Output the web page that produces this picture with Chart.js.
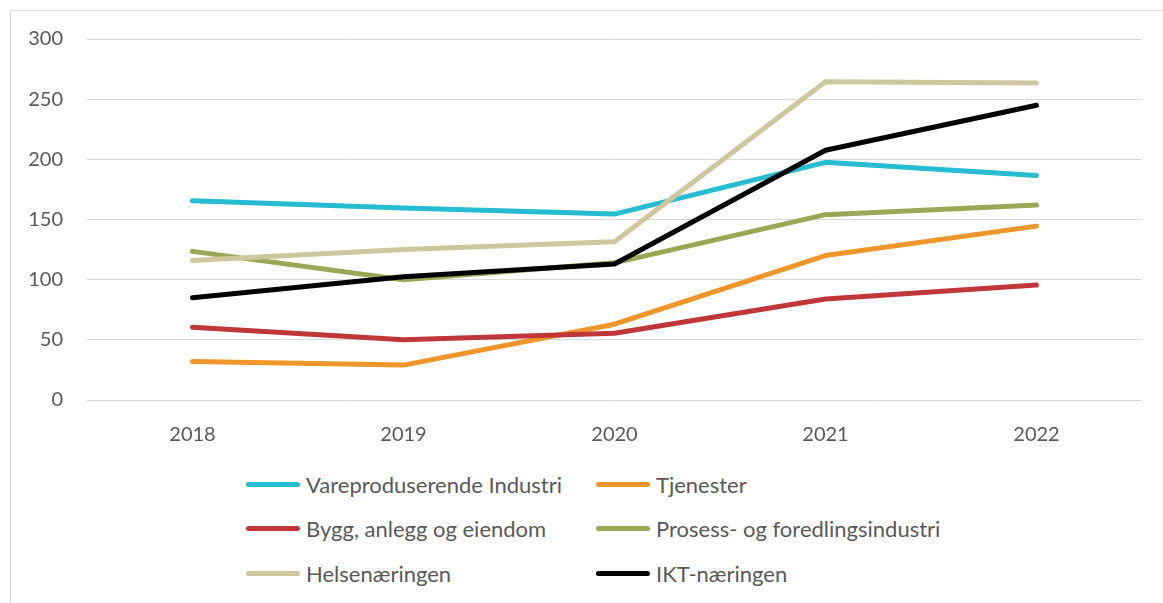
<!DOCTYPE html>
<html lang="no">
<head>
<meta charset="UTF-8">
<title>Næringer</title>
<script src="https://cdn.jsdelivr.net/npm/chart.js"></script>
<style>
    body { margin: 0; background: #fff; font-family: Lato, "Open Sans", sans-serif; }
    .ramme { position: absolute; left: 10px; top: 10px; width: 1160px; height: 600px; border: 1px solid #d9d9d9; }
    .graf { position: absolute; left: 0; top: 0; width: 1163px; height: 460px; }
    .forklaring { position: absolute; left: 246px; top: 462px; display: grid; grid-template-columns: 350px 400px; row-gap: 0; }
    .forklaring div { height: 44.5px; display: flex; align-items: center; color: #595959; font-size: 22px; }
    .forklaring span { display: inline-block; width: 54px; height: 5px; border-radius: 3px; margin-right: 6px; }
</style>
</head>
<body>
<div class="ramme"></div>
<div class="graf"><canvas id="minGraf"></canvas></div>
<div class="forklaring" id="forklaring"></div>

<script>
    // data lest av bildet
    const aar = ["2018", "2019", "2020", "2021", "2022"];
    const navn = [
        "Vareproduserende Industri",
        "Tjenester",
        "Bygg, anlegg og eiendom",
        "Prosess- og foredlingsindustri",
        "Helsenæringen",
        "IKT-næringen"
    ];
    const vareproduserende = [165.5, 159.5, 154.5, 197.5, 186.5];
    const tjenester = [32, 29, 63, 120, 144.5];
    const bygg = [60.5, 50, 55.5, 84, 95.5];
    const prosess = [123.5, 100, 114, 154, 162];
    const helse = [116, 125, 131.5, 264.5, 263.5];
    const ikt = [85, 102.5, 113, 207.5, 245];
    const farger = ["#26bcd1", "#ee962a", "#c0373a", "#9aa856", "#cec79d", "#000000"];
    const yTicks = [0, 50, 100, 150, 200, 250, 300];

    const serier = [vareproduserende, tjenester, bygg, prosess, helse, ikt];

    const datasets = serier.map(function (verdier, i) {
        return {
            label: navn[i],
            data: verdier,
            borderColor: farger[i],
            backgroundColor: farger[i],
            borderWidth: 5,
            borderCapStyle: 'round',
            borderJoinStyle: 'round',
            pointRadius: 0,
            tension: 0,
            order: serier.length - i // siste serie tegnes øverst, som i excel
        };
    });

    const config = {
        type: 'line',
        data: { labels: aar, datasets: datasets },
        options: {
            responsive: true,
            maintainAspectRatio: false,
            animation: false,
            layout: { padding: { top: 39, right: 21, left: 0, bottom: 0 } },
            plugins: { legend: { display: false }, tooltip: { enabled: false } },
            scales: {
                x: {
                    offset: true,
                    grid: { display: false },
                    border: { display: false },
                    ticks: { color: '#595959', font: { family: 'Lato', size: 20 }, padding: 15 },
                    afterFit: function (scale) { scale.height = 60; }
                },
                y: {
                    min: 0,
                    max: 300,
                    afterBuildTicks: function (scale) {
                        scale.ticks = yTicks.map(function (v) { return { value: v }; });
                    },
                    grid: { color: '#d9d9d9', lineWidth: 1, drawTicks: false },
                    border: { display: false },
                    ticks: { color: '#595959', font: { family: 'Lato', size: 20 }, padding: 24 },
                    afterFit: function (scale) { scale.width = 87; }
                }
            }
        }
    };

    new Chart(document.getElementById('minGraf'), config);

    // forklaring i to kolonner
    const forklaring = document.getElementById('forklaring');
    navn.forEach(function (n, i) {
        forklaring.innerHTML += `<div><span style="background:${farger[i]}"></span>${n}</div>`;
    });
</script>
</body>
</html>
